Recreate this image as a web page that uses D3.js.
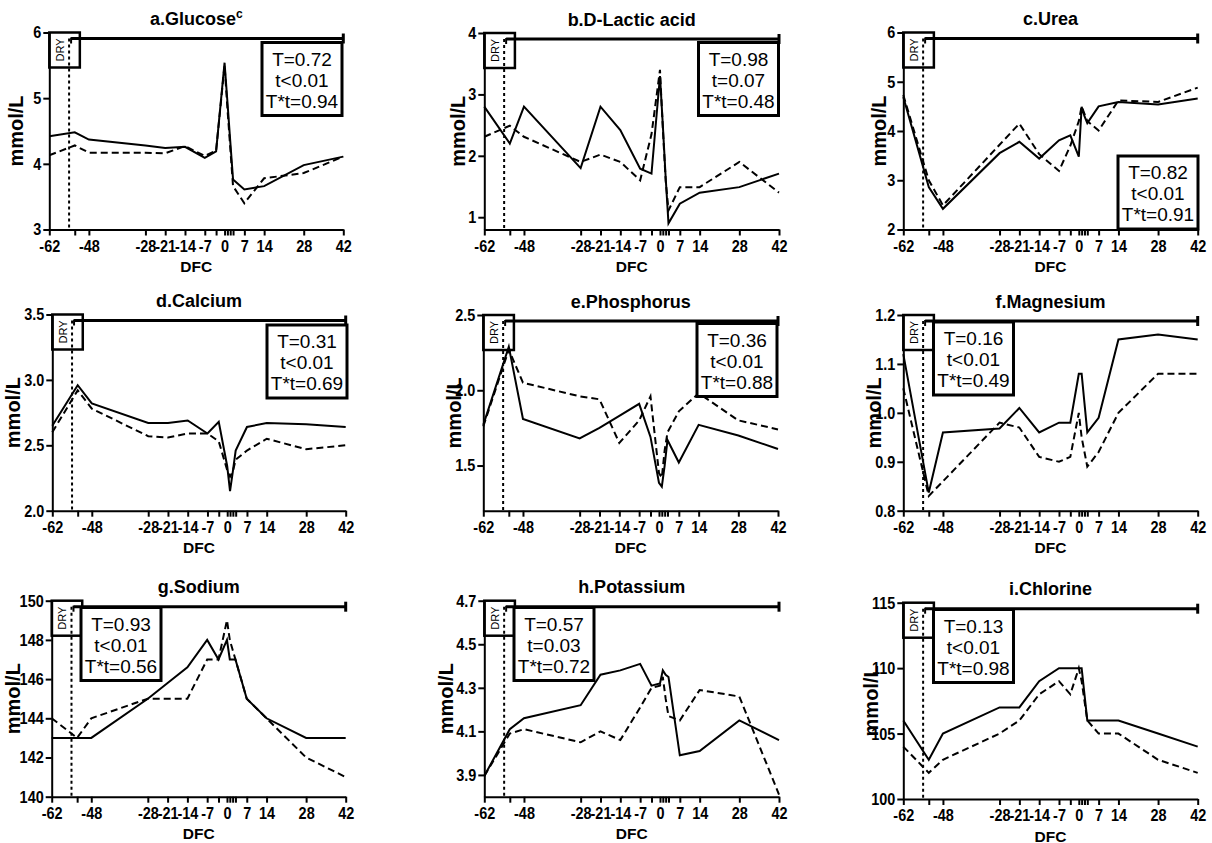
<!DOCTYPE html>
<html>
<head>
<meta charset="utf-8">
<script src="https://cdn.jsdelivr.net/npm/d3@7"></script>
<style>
  body { margin: 0; background: #fff; }
  svg { display: block; }
  text { font-family: Arial, "Liberation Sans", Helvetica, sans-serif; fill: #000; }
</style>
</head>
<body>
<svg id="fig" width="1212" height="843"></svg>
<script>
// Sampling days relative to calving (DFC) and the x-axis tick set
const days = [-62, -53, -48, -28, -21, -14, -7, -3, 0, 1, 2, 3, 7, 14, 28, 42];
const xTickDays = [-62, -53, -48, -28, -21, -14, -7, -3, 0, 1, 2, 3, 7, 14, 28, 42];
const xTickLabels = ["-62", "", "-48", "-28", "-21", "-14", "-7", "", "0", "", "", "", "7", "14", "28", "42"];
const xDomain = [-62, 42];
const dryOffDay = -55;

// Panel titles
const titles = ["a.Glucose", "b.D-Lactic acid", "c.Urea", "d.Calcium", "e.Phosphorus",
                "f.Magnesium", "g.Sodium", "h.Potassium", "i.Chlorine"];
const titleSup = ["c", "", "", "", "", "", "", "", ""];

// Y domains and tick labels
const yDomains = [[3, 6], [0.8, 4], [2, 6], [2, 3.5], [1.2, 2.5], [0.8, 1.2], [140, 150], [3.8, 4.7], [100, 115]];
const yTicks = [
  [3, 4, 5, 6],
  [1, 2, 3, 4],
  [2, 3, 4, 5, 6],
  [2.0, 2.5, 3.0, 3.5],
  [1.5, 2.0, 2.5],
  [0.8, 0.9, 1.0, 1.1, 1.2],
  [140, 142, 144, 146, 148, 150],
  [3.9, 4.1, 4.3, 4.5, 4.7],
  [100, 105, 110, 115]
];
const yTickDecimals = [0, 0, 0, 1, 1, 1, 0, 1, 0];

// Group means, mmol/L (solid = group 1, dashed = group 2)
const glucoseGroup1 = [4.42, 4.48, 4.37, 4.28, 4.24, 4.26, 4.09, 4.19, 5.54, 4.95, 4.35, 3.76, 3.61, 3.66, 3.98, 4.11];
const glucoseGroup2 = [4.13, 4.28, 4.17, 4.17, 4.16, 4.27, 4.12, 4.20, 5.50, 4.85, 4.25, 3.66, 3.40, 3.78, 3.86, 4.11];
const lacticGroup1  = [2.80, 2.20, 2.80, 1.80, 2.80, 2.42, 1.79, 1.71, 3.30, 2.50, 1.65, 0.90, 1.22, 1.40, 1.49, 1.71];
const lacticGroup2  = [2.31, 2.49, 2.31, 1.90, 2.02, 1.90, 1.60, 2.35, 3.40, 2.45, 1.60, 1.11, 1.49, 1.49, 1.90, 1.40];
const ureaGroup1    = [4.69, 2.86, 2.42, 3.55, 3.78, 3.44, 3.81, 3.91, 3.48, 4.49, 4.30, 4.16, 4.50, 4.59, 4.54, 4.66];
const ureaGroup2    = [4.73, 3.00, 2.49, 3.72, 4.15, 3.53, 3.19, 3.70, 4.20, 4.50, 4.35, 4.20, 4.01, 4.62, 4.59, 4.88];
const calciumGroup1 = [2.65, 2.96, 2.82, 2.67, 2.67, 2.69, 2.59, 2.68, 2.34, 2.15, 2.30, 2.46, 2.64, 2.67, 2.66, 2.64];
const calciumGroup2 = [2.60, 2.92, 2.78, 2.57, 2.56, 2.59, 2.59, 2.53, 2.31, 2.26, 2.30, 2.39, 2.46, 2.55, 2.47, 2.50];
const phosGroup1    = [1.77, 2.29, 1.81, 1.68, 1.75, 1.83, 1.91, 1.69, 1.385, 1.36, 1.50, 1.67, 1.52, 1.77, 1.70, 1.61];
const phosGroup2    = [1.76, 2.27, 2.05, 1.96, 1.94, 1.65, 1.80, 1.96, 1.45, 1.42, 1.60, 1.72, 1.86, 1.98, 1.80, 1.74];
const magGroup1     = [1.12, 0.837, 0.96, 0.968, 1.01, 0.96, 0.98, 0.98, 1.08, 1.08, 1.02, 0.96, 0.99, 1.15, 1.16, 1.15];
const magGroup2     = [1.05, 0.83, 0.86, 0.98, 0.97, 0.91, 0.90, 0.91, 1.00, 0.95, 0.92, 0.89, 0.92, 1.00, 1.08, 1.08];
const sodiumGroup1  = [143, 143, 143, 145, 145.8, 146.6, 148, 147, 148, 147, 147, 147, 145, 144, 143, 143];
const sodiumGroup2  = [144, 143, 144, 145, 145, 145, 147, 147, 149, 148, 147.5, 147, 145, 144, 142, 141];
const potGroup1     = [3.895, 4.11, 4.16, 4.22, 4.36, 4.38, 4.41, 4.31, 4.32, 4.38, 4.36, 4.35, 3.99, 4.01, 4.15, 4.06];
const potGroup2     = [3.895, 4.09, 4.11, 4.05, 4.10, 4.06, 4.21, 4.30, 4.31, 4.35, 4.25, 4.17, 4.15, 4.29, 4.26, 3.81];
const chlGroup1     = [106, 103, 105, 107, 107, 109, 110, 110, 110, 110, 108, 106, 106, 106, 105, 104];
const chlGroup2     = [104, 102, 103, 105, 106, 108, 109, 108, 110, 109, 107.5, 106, 105, 105, 103, 102];

const group1Series = [glucoseGroup1, lacticGroup1, ureaGroup1, calciumGroup1, phosGroup1, magGroup1, sodiumGroup1, potGroup1, chlGroup1];
const group2Series = [glucoseGroup2, lacticGroup2, ureaGroup2, calciumGroup2, phosGroup2, magGroup2, sodiumGroup2, potGroup2, chlGroup2];

// P-values: treatment (T), time (t), interaction (T*t)
const pTreatment   = ["T=0.72", "T=0.98", "T=0.82", "T=0.31", "T=0.36", "T=0.16", "T=0.93", "T=0.57", "T=0.13"];
const pTime        = ["t<0.01", "t=0.07", "t<0.01", "t<0.01", "t<0.01", "t<0.01", "t<0.01", "t=0.03", "t<0.01"];
const pInteraction = ["T*t=0.94", "T*t=0.48", "T*t=0.91", "T*t=0.69", "T*t=0.88", "T*t=0.49", "T*t=0.56", "T*t=0.72", "T*t=0.98"];

// Panel geometry: plot area, p-value box corner, y-label offset
const layout = [
  { x0: 49.3,  x1: 343.3,  y0: 32.5,  y1: 229.5, bx: 262,  by: 42.5,  yl: 33 },
  { x0: 484.3, x1: 779,    y0: 33,    y1: 229.5, bx: 698.5,by: 42.5,  yl: 26.5 },
  { x0: 903.3, x1: 1197.7, y0: 32.5,  y1: 229.5, bx: 1118, by: 156,   yl: 24 },
  { x0: 52.3,  x1: 345.7,  y0: 314.5, y1: 510.7, bx: 267,  by: 325,   yl: 39 },
  { x0: 483.3, x1: 778,    y0: 315,   y1: 510.7, bx: 697,  by: 323.5, yl: 29 },
  { x0: 903.3, x1: 1197.7, y0: 315,   y1: 510.7, bx: 933.5,by: 322,   yl: 29 },
  { x0: 51.7,  x1: 345.7,  y0: 600.7, y1: 796.7, bx: 81,   by: 607.5, yl: 38.5 },
  { x0: 484.3, x1: 779,    y0: 600.7, y1: 796.7, bx: 514,  by: 607.5, yl: 38 },
  { x0: 903.3, x1: 1197.7, y0: 602.7, y1: 799,   bx: 933.5,by: 609.5, yl: 32 }
];

const tickScaleX = 0.85;   // tick labels are set slightly condensed
const svg = d3.select("#fig");

titles.forEach((title, k) => {
  const L = layout[k];
  const g = svg.append("g");
  const x = d3.scaleLinear().domain(xDomain).range([L.x0, L.x1]);
  const y = d3.scaleLinear().domain(yDomains[k]).range([L.y1, L.y0]);

  // data lines
  const line = d3.line().x((d, i) => x(days[i])).y(d => y(d));
  g.append("path").datum(group2Series[k]).attr("d", line)
    .attr("fill", "none").attr("stroke", "#000").attr("stroke-width", 2)
    .attr("stroke-dasharray", "7,4");
  g.append("path").datum(group1Series[k]).attr("d", line)
    .attr("fill", "none").attr("stroke", "#000").attr("stroke-width", 2);

  // dry period marker: dotted line at dry-off, bar to end of study, DRY box
  const barY = L.y0 + 6;
  const xd = x(dryOffDay);
  g.append("line").attr("x1", xd).attr("x2", xd).attr("y1", barY).attr("y2", L.y1)
    .attr("stroke", "#000").attr("stroke-width", 2).attr("stroke-dasharray", "3,3");
  g.append("line").attr("x1", xd + 2).attr("x2", L.x1).attr("y1", barY).attr("y2", barY)
    .attr("stroke", "#000").attr("stroke-width", 3);
  g.append("line").attr("x1", L.x1).attr("x2", L.x1).attr("y1", barY - 5).attr("y2", barY + 5)
    .attr("stroke", "#000").attr("stroke-width", 3);
  g.append("line").attr("x1", xd + 2).attr("x2", xd + 2).attr("y1", barY - 1).attr("y2", barY + 5)
    .attr("stroke", "#000").attr("stroke-width", 2);
  const boxRight = x(-51.2);
  g.append("rect").attr("x", L.x0).attr("y", L.y0).attr("width", boxRight - L.x0).attr("height", 35)
    .attr("fill", "none").attr("stroke", "#000").attr("stroke-width", 2.5);
  g.append("text").attr("transform", `translate(${L.x0 + 14.5},${L.y0 + 17.5}) rotate(-90)`)
    .attr("text-anchor", "middle").attr("font-size", 11).text("DRY");

  // axes
  const xAxis = d3.axisBottom(x).tickValues(xTickDays).tickFormat((d, i) => xTickLabels[i])
    .tickSize(6).tickSizeOuter(0).tickPadding(4);
  const gx = g.append("g").attr("transform", `translate(0,${L.y1})`).call(xAxis);
  const dec = yTickDecimals[k];
  const yAxis = d3.axisLeft(y).tickValues(yTicks[k]).tickFormat(d => d.toFixed(dec))
    .tickSize(6).tickSizeOuter(0).tickPadding(3.4);
  const gy = g.append("g").attr("transform", `translate(${L.x0},0)`).call(yAxis);
  [gx, gy].forEach(a => {
    a.select(".domain").attr("stroke", "#000").attr("stroke-width", 2);
    a.selectAll(".tick line").attr("stroke", "#000").attr("stroke-width", 2);
    a.selectAll(".tick text").attr("font-size", 17).attr("font-weight", "bold")
      .attr("fill", "#000").style("font-family", "Arial, 'Liberation Sans', sans-serif")
      .attr("transform", `scale(${tickScaleX},1)`);
  });

  // axis titles
  g.append("text").attr("x", (L.x0 + L.x1) / 2).attr("y", L.y1 + 42.5)
    .attr("text-anchor", "middle").attr("font-size", 15.5).attr("font-weight", "bold").text("DFC");
  g.append("text")
    .attr("transform", `translate(${L.x0 - L.yl},${(L.y0 + L.y1) / 2}) rotate(-90)`)
    .attr("text-anchor", "middle").attr("dy", "0.35em")
    .attr("font-size", 20).attr("font-weight", "bold").text("mmol/L");

  // panel title
  const t = g.append("text").attr("x", (L.x0 + L.x1) / 2).attr("y", L.y0 - 7.5)
    .attr("text-anchor", "middle").attr("font-size", 18).attr("font-weight", "bold");
  t.append("tspan").text(title);
  if (titleSup[k]) {
    t.append("tspan").attr("dy", -7).attr("font-size", 12).text(titleSup[k]);
  }

  // p-value box
  const bw = 80, bh = 73;
  g.append("rect").attr("x", L.bx).attr("y", L.by).attr("width", bw).attr("height", bh)
    .attr("fill", "#fff").attr("stroke", "#000").attr("stroke-width", 3);
  [pTreatment[k], pTime[k], pInteraction[k]].forEach((s, j) => {
    g.append("text").attr("x", L.bx + bw / 2).attr("y", L.by + 23 + j * 21)
      .attr("text-anchor", "middle").attr("font-size", 19).text(s);
  });
});
</script>
</body>
</html>
